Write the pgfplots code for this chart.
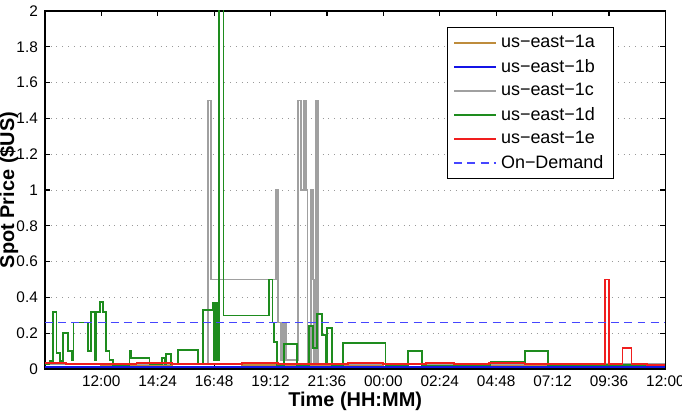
\documentclass[border=0pt]{standalone}
\usepackage{pgfplots}
\pgfplotsset{compat=1.18}
\usepackage{fontspec}
\setmainfont{Liberation Sans}
\definecolor{cA}{RGB}{190,140,60}
\definecolor{cB}{RGB}{20,20,230}
\definecolor{cC}{RGB}{160,160,160}
\definecolor{cD}{RGB}{30,140,30}
\definecolor{cE}{RGB}{240,30,30}
\definecolor{cOD}{RGB}{70,70,255}
\begin{document}
\begin{tikzpicture}
\begin{axis}[
  scale only axis,
  width=311pt, height=179.5pt,
  xmin=9.6, xmax=36, ymin=0, ymax=2,
  xtick={12,14.4,16.8,19.2,21.6,24,26.4,28.8,31.2,33.6,36},
  xticklabels={12:00,14:24,16:48,19:12,21:36,00:00,02:24,04:48,07:12,09:36,12:00},
  ytick={0,0.2,0.4,0.6,0.8,1,1.2,1.4,1.6,1.8,2},
  yticklabels={0,0.2,0.4,0.6,0.8,1,1.2,1.4,1.6,1.8,2},
  tick align=inside,
  major tick length=2.5pt,
  tick style={draw=black, line width=0.6pt},
  axis line style={draw=black, line width=0.7pt},
  ymajorgrids,
  grid style={draw=gray!80, line width=0.4pt, dash pattern=on 0.5pt off 2.4pt},
  tick label style={font=\fontsize{7.7}{9}\selectfont},
  /pgf/number format/assume math mode=true,
  xlabel={Time (HH:MM)},
  ylabel={Spot Price (\$US)},
  xlabel style={font=\fontsize{10}{12}\selectfont\bfseries, at={(axis description cs:0.5,-0.089)}, anchor=center},
  ylabel style={font=\fontsize{10}{12}\selectfont\bfseries, at={(axis description cs:-0.058,0.5)}, anchor=center, inner sep=0pt},
  legend style={at={(0.917,0.955)}, anchor=north east, draw=black, line width=0.6pt,
    fill=white, font=\fontsize{9}{10}\selectfont, inner xsep=3pt, inner ysep=1.8pt, row sep=0.2pt},
  legend cell align=left,
  legend image code/.code={\draw[#1] (0pt,0pt) -- (21pt,0pt);},
  every axis plot/.append style={line width=0.9pt},
]
% us-east-1a
\addplot[draw=cA, const plot] coordinates {
(9.6,0.026) (12.0,0.024) (15.0,0.027) (18.0,0.025) (21.0,0.024) (24.0,0.026)
(27.0,0.024) (30.0,0.025) (33.0,0.024) (35.0,0.022) (36,0.022)};
\addlegendentry{us\textminus east\textminus 1a}
% us-east-1b
\addplot[draw=cB, const plot] coordinates {
(9.6,0.013) (14.0,0.012) (20.0,0.013) (26.0,0.012) (32.0,0.013) (36,0.013)};
\addlegendentry{us\textminus east\textminus 1b}
% us-east-1c
\addplot[draw=cC, const plot] coordinates {
(9.6,0.03) (16.54,1.5) (16.66,0.5) (19.42,1.0) (19.50,0.26)
(19.62,0.05) (19.66,0.26) (19.70,0.05) (19.74,0.26) (19.78,0.05) (19.82,0.26) (19.88,0.05)
(20.37,1.5) (20.50,1.0) (20.63,1.5) (20.70,1.0) (20.77,0.03)
(20.91,1.0) (20.95,0.5) (20.98,1.0) (21.01,0.5) (21.05,0.03)
(21.12,1.5) (21.22,0.03) (36,0.03)};
\addlegendentry{us\textminus east\textminus 1c}
% us-east-1d
\addplot[draw=cD, const plot] coordinates {
(9.6,0.03) (9.8,0.045) (9.95,0.32) (10.09,0.09) (10.23,0.045) (10.38,0.20)
(10.59,0.10) (10.76,0.05) (10.82,0.26) (11.44,0.10) (11.55,0.32) (11.72,0.05)
(11.79,0.32) (11.93,0.375) (12.07,0.32) (12.21,0.10) (12.35,0.05) (12.5,0.02)
(13.2,0.10) (13.27,0.06) (14.05,0.03) (14.59,0.06) (14.70,0.03) (14.76,0.085)
(14.97,0.03) (15.25,0.105) (16.10,0.03) (16.31,0.33) (16.74,0.37)
(16.80,0.05) (16.84,0.37) (16.88,0.05) (16.92,0.37) (16.96,0.05) (16.99,0.37)
(17.02,3.0) (17.20,0.30) (19.14,0.50) (19.28,0.26) (19.35,0.15) (19.49,0.02)
(19.77,0.14) (20.34,0.02) (20.83,0.24) (21.0,0.12) (21.19,0.31) (21.40,0.19)
(21.54,0.03) (21.61,0.23) (21.83,0.02) (22.29,0.145) (24.09,0.02) (25.06,0.10)
(25.64,0.02) (28.56,0.04) (30.04,0.10) (31.0,0.025) (36,0.025)};
\addlegendentry{us\textminus east\textminus 1d}
% us-east-1e
\addplot[draw=cE, const plot] coordinates {
(9.6,0.032) (10.5,0.028) (12.0,0.03) (13.5,0.033) (15,0.028) (16.5,0.03)
(18,0.035) (19.5,0.03) (21,0.028) (22.5,0.032) (24,0.03) (25.8,0.035)
(27,0.03) (28.5,0.033) (30,0.03) (31.5,0.028) (33.42,0.5) (33.6,0.03)
(34.17,0.12) (34.56,0.03) (35.2,0.025) (36,0.025)};
\addlegendentry{us\textminus east\textminus 1e}
% On-Demand
\addplot[draw=cOD, line width=0.9pt, dash pattern=on 4pt off 2.6pt] coordinates {(9.6,0.26) (36,0.26)};
\addlegendentry{On\textminus Demand}
\end{axis}
\path (current axis.south west) ++(-22.5pt,-22pt) coordinate (bl);
\path (current axis.north east) ++(8.3pt,5.5pt) coordinate (tr);
\pgfresetboundingbox
\path (bl) rectangle (tr);
\end{tikzpicture}
\end{document}
